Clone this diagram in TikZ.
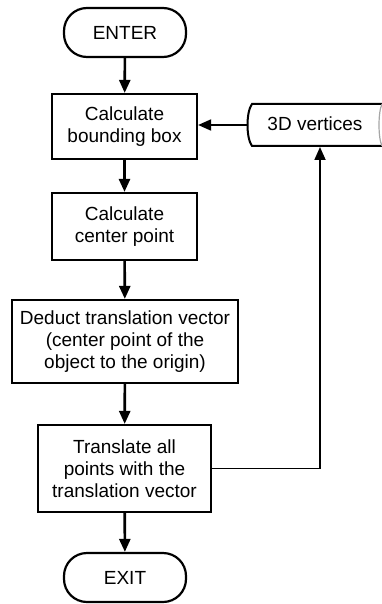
\documentclass[tikz,border=0pt]{standalone}
\usepackage{fontspec}
\setmainfont{Liberation Sans}
\usetikzlibrary{arrows.meta}
\begin{document}
\begin{tikzpicture}[x=1pt,y=-1pt,
  txt/.style={font=\fontsize{19}{22}\selectfont, align=center, inner sep=0pt},
  procbox/.style={txt, draw, line width=2.2pt, minimum width=#1},
  term/.style={txt, draw, line width=2.2pt, rounded corners=23pt, minimum width=122pt, minimum height=49pt},
  flow/.style={line width=2.6pt, -{Triangle[length=13pt,width=11pt]}},
  feed/.style={line width=1.8pt, -{Triangle[length=13pt,width=11pt]}}]
\useasboundingbox (0,0) rectangle (382,604);
\node[term] (enter) at (125,32.5) {ENTER};
\node[procbox=145pt, minimum height=65pt] (b1) at (124.5,126.5) {Calculate\\bounding box};
\node[procbox=145pt, minimum height=67pt] (b2) at (124.5,226.5) {Calculate\\center point};
\node[procbox=226pt, minimum height=83pt] (b3) at (125,341.5) {Deduct translation vector\\(center point of the\\object to the origin)};
\node[procbox=173pt, minimum height=87pt] (b4) at (124.5,468.5) {Translate all\\points with the\\translation vector};
\node[term] (exit) at (125,577.5) {EXIT};
\node[txt] (vert) at (315,124) {3D vertices};
\draw[line width=2pt] (386,104) -- (252,104) .. controls (246,112) and (246,138) .. (252,146) -- (386,146);
\draw[line width=1.2pt, gray!70] (382,104) .. controls (378,112) and (378,138) .. (382,146);
\coordinate (vl) at (248,125);
\coordinate (vb) at (320,147);
\coordinate (corner) at (320,468.5);
\draw[flow] (enter) -- (b1);
\draw[flow] (b1) -- (b2);
\draw[flow] (b2) -- (b3);
\draw[flow] (b3) -- (b4);
\draw[flow] (b4) -- (exit);
\draw[feed] (vl) -- (b1.east |- vl);
\draw[feed] (b4.east) -- (corner) -- (vb);
\end{tikzpicture}
\end{document}
